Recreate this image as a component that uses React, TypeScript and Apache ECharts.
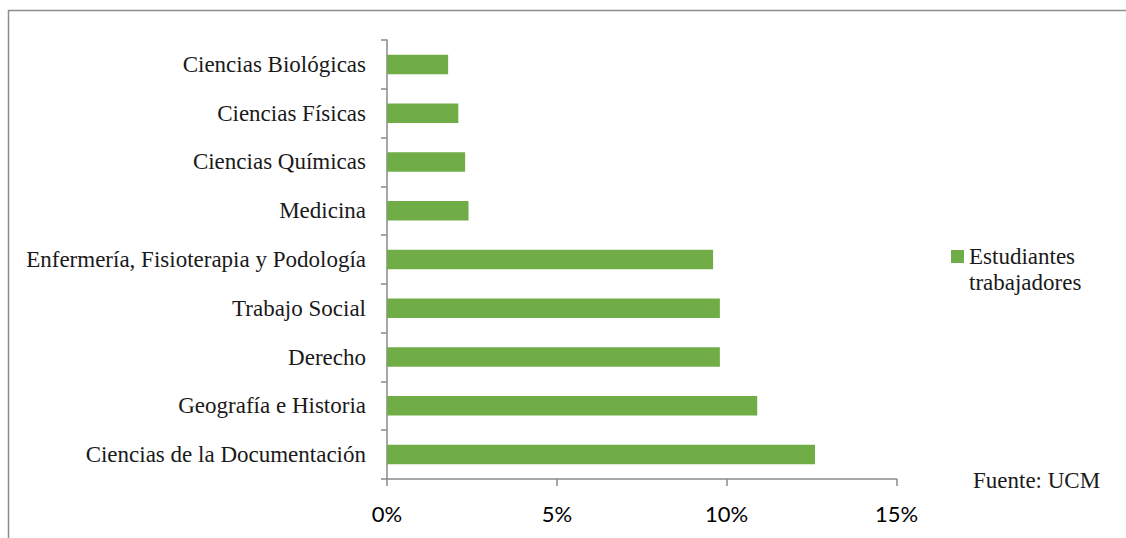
import React, { useEffect, useRef } from "react";
import * as echarts from "echarts";

const categories = [
  "Ciencias Biológicas",
  "Ciencias Físicas",
  "Ciencias Químicas",
  "Medicina",
  "Enfermería, Fisioterapia y Podología",
  "Trabajo Social",
  "Derecho",
  "Geografía e Historia",
  "Ciencias de la Documentación",
];
const values = [1.8, 2.1, 2.3, 2.4, 9.6, 9.8, 9.8, 10.9, 12.6];
const seriesName = "Estudiantes trabajadores";
const sourceText = "Fuente: UCM";

const SERIF = "'Liberation Serif', 'Times New Roman', serif";
const SANS = "Lato, 'Open Sans', sans-serif";

export default function App() {
  const ref = useRef<HTMLDivElement>(null);
  useEffect(() => {
    if (!ref.current) return;
    const chart = echarts.init(ref.current, null, { renderer: "svg" });
    chart.setOption({
      animation: false,
      backgroundColor: "#ffffff",
      grid: { left: 387, top: 40, right: 229.5, bottom: 59, containLabel: false },
      legend: {
        data: [seriesName],
        left: 951,
        top: 243.5,
        padding: 0,
        orient: "vertical",
        itemWidth: 13,
        itemHeight: 39,
        icon: "path://M0,0L13,0L13,13L0,13Z M0,39L0.001,39Z",
        formatter: (n: string) => n.replace(" ", "\n"),
        textStyle: {
          fontFamily: SERIF,
          fontSize: 23,
          color: "#1a1a1a",
          lineHeight: 26,
        },
      },
      xAxis: {
        type: "value",
        min: 0,
        max: 15,
        interval: 5,
        axisLine: { show: true, lineStyle: { color: "#8a8a8a", width: 1.5 } },
        axisTick: { show: true, length: 7, lineStyle: { color: "#8a8a8a", width: 1.5 } },
        splitLine: { show: false },
        axisLabel: {
          formatter: "{value}%",
          fontFamily: SANS,
          fontSize: 22,
          color: "#000",
          margin: 23,
        },
      },
      yAxis: {
        type: "category",
        data: categories,
        inverse: true,
        axisLine: { show: true, lineStyle: { color: "#8a8a8a", width: 1.5 } },
        axisTick: { show: true, length: 6, lineStyle: { color: "#8a8a8a", width: 1.5 } },
        axisLabel: {
          fontFamily: SERIF,
          fontSize: 23,
          color: "#1a1a1a",
          margin: 21,
        },
      },
      series: [
        {
          name: seriesName,
          type: "bar",
          data: values,
          barWidth: "40%",
          itemStyle: { color: "#70ad47" },
        },
      ],
      graphic: [
        {
          type: "rect",
          shape: { x: 8.5, y: 10.5, width: 1200, height: 600 },
          style: { fill: "none", stroke: "#8c8c8c", lineWidth: 1.5 },
          silent: true,
        },
        {
          type: "text",
          left: 973,
          top: 469,
          style: { text: sourceText, fontFamily: SERIF, fontSize: 23, fill: "#1a1a1a" },
        },
      ],
    });
    return () => chart.dispose();
  }, []);
  return (
    <div
      ref={ref}
      style={{ position: "fixed", left: 0, top: 0, width: 1126, height: 538 }}
    />
  );
}
